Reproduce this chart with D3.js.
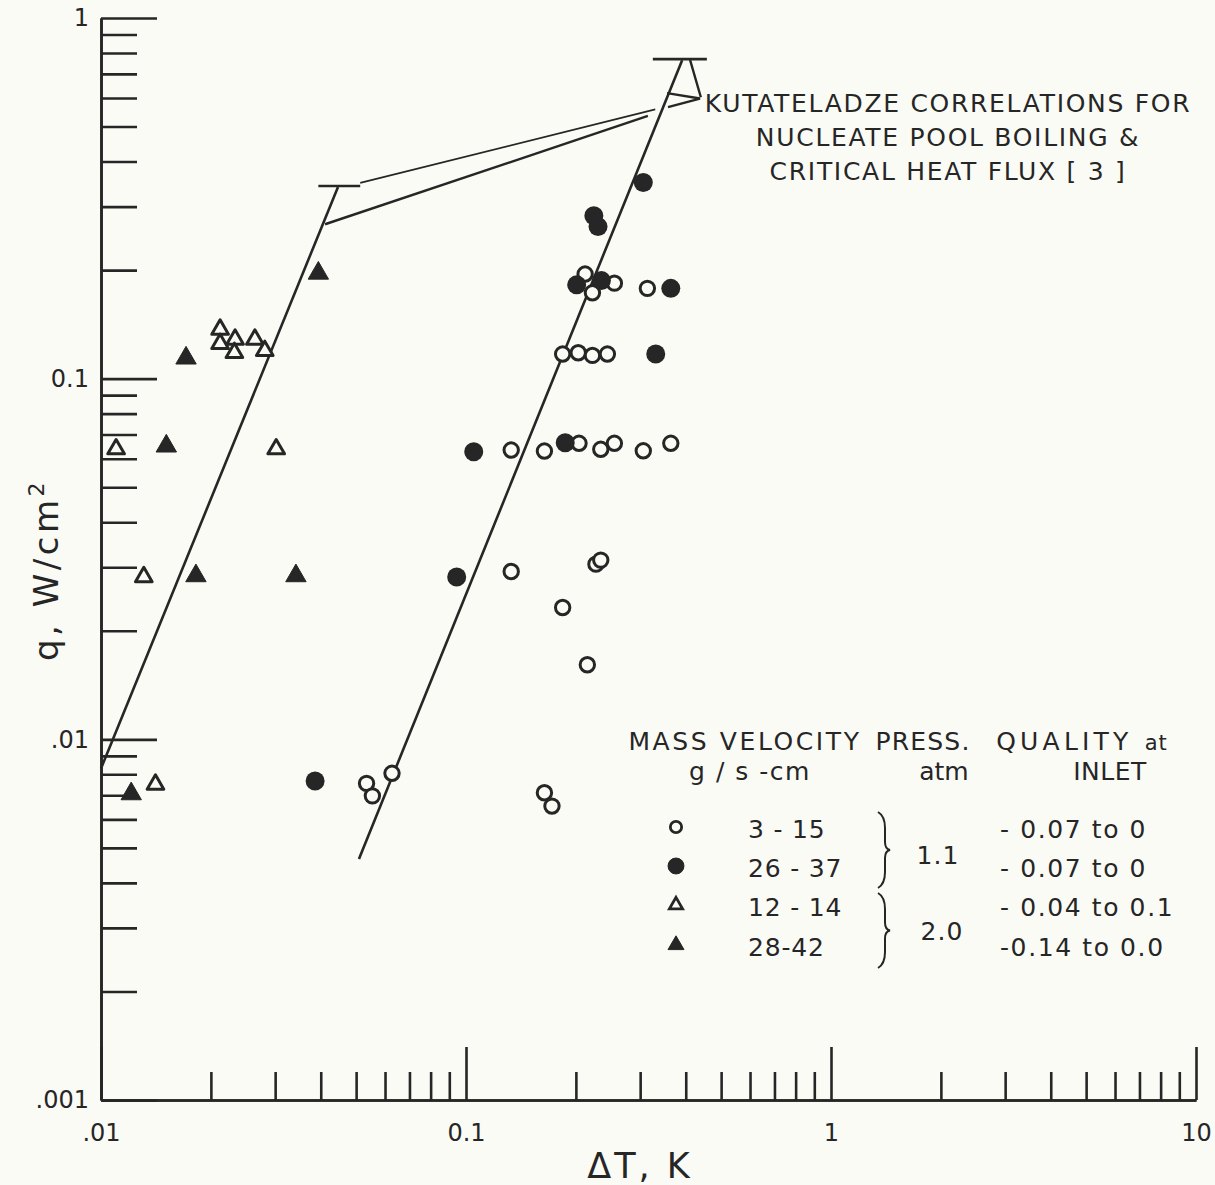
<!DOCTYPE html>
<html>
<head>
<meta charset="utf-8">
<script src="https://cdn.jsdelivr.net/npm/d3@7"></script>
<style>
  body { margin: 0; background: #fbfbf6; }
  svg { display: block; }
</style>
</head>
<body>
<script>
// Width and height
var w = 1215;
var h = 1185;
var ink = "#262626";

// Data: [delta T (K), q (W/cm2)]
var openCircles = [      // mass velocity 3 - 15, 1.1 atm
  [0.212, 0.195], [0.222, 0.173], [0.255, 0.184], [0.314, 0.178],
  [0.184, 0.117], [0.203, 0.118], [0.222, 0.116], [0.244, 0.117],
  [0.133, 0.0634], [0.164, 0.063], [0.204, 0.0662], [0.234, 0.0637],
  [0.255, 0.0662], [0.306, 0.0631], [0.364, 0.0662],
  [0.133, 0.0292], [0.227, 0.0306], [0.234, 0.0314],
  [0.184, 0.0232], [0.215, 0.0161],
  [0.0534, 0.00755], [0.0554, 0.00697], [0.0627, 0.00805],
  [0.164, 0.00711], [0.172, 0.00653]
];
var filledCircles = [    // mass velocity 26 - 37, 1.1 atm
  [0.306, 0.350], [0.224, 0.283], [0.230, 0.264],
  [0.201, 0.182], [0.235, 0.187], [0.364, 0.178], [0.331, 0.117],
  [0.105, 0.0627], [0.187, 0.0664], [0.0943, 0.0282], [0.0386, 0.00766]
];
var openTriangles = [    // mass velocity 12 - 14, 2.0 atm
  [0.0212, 0.137], [0.0212, 0.125], [0.0233, 0.1285], [0.0232, 0.118],
  [0.0264, 0.1285], [0.0281, 0.1195],
  [0.0110, 0.0638], [0.0302, 0.0638], [0.0131, 0.0282], [0.0141, 0.0075]
];
var filledTriangles = [  // mass velocity 28 - 42, 2.0 atm
  [0.0394, 0.196], [0.0171, 0.114], [0.0151, 0.065],
  [0.0182, 0.0284], [0.0342, 0.0284], [0.0121, 0.00706]
];

// Kutateladze correlations
var poolLeft = [[0.01, 0.0083], [0.0446, 0.340]];
var chfLeft = [[0.0394, 0.342], [0.0513, 0.342]];
var poolRight = [[0.0509, 0.00466], [0.391, 0.764]];
var chfRight = [[0.325, 0.769], [0.457, 0.769]];

// leader lines of the note
var leaderUpper = [[0.0513, 0.349], [0.330, 0.558]];
var leaderLower = [[0.0411, 0.268], [0.315, 0.535]];
var leaderArrow = [[0.3555, 0.619], [0.4375, 0.598], [0.3576, 0.566]];
var leaderCap = [[0.411, 0.765], [0.440, 0.603]];

// Ticks and labels
var xMajor = [0.01, 0.1, 1, 10];
var xLabels = [".01", "0.1", "1", "10"];
var yMajor = [0.001, 0.01, 0.1, 1];
var yLabels = [".001", ".01", "0.1", "1"];
var minorSteps = [2, 3, 4, 5, 6, 7, 8, 9];

// Legend
var legendRanges = ["3 - 15", "26 - 37", "12 - 14", "28-42"];
var legendQuality = ["- 0.07 to 0", "- 0.07 to 0", "- 0.04 to 0.1", "-0.14 to 0.0"];
var legendPress = ["1.1", "2.0"];
var noteLines = ["KUTATELADZE CORRELATIONS FOR", "NUCLEATE POOL BOILING &", "CRITICAL HEAT FLUX [ 3 ]"];

var svg = d3.select("body")
            .append("svg")
            .attr("width", w)
            .attr("height", h)
            .style("font-family", "'DejaVu Sans', sans-serif");

svg.append("rect").attr("width", w).attr("height", h).attr("fill", "#fbfbf6");

var x = d3.scaleLog().domain([0.01, 10]).range([101, 1196]);
var y = d3.scaleLog().domain([0.001, 1]).range([1100, 18]);

function minors(decades) {
  var out = [];
  decades.forEach(function(d) {
    minorSteps.forEach(function(s) { out.push(d * s); });
  });
  return out;
}

// y axis (ticks point into the plot)
svg.append("g")
   .attr("transform", "translate(" + x(0.01) + ",0)")
   .call(d3.axisLeft(y).tickValues(minors([0.001, 0.01, 0.1])).tickSize(-36).tickSizeOuter(0).tickFormat(""));
svg.append("g")
   .attr("transform", "translate(" + x(0.01) + ",0)")
   .call(d3.axisLeft(y).tickValues(yMajor).tickSize(-56).tickSizeOuter(0).tickPadding(12)
           .tickFormat(function(d, i) { return yLabels[i]; }));

// x axis
svg.append("g")
   .attr("transform", "translate(0," + y(0.001) + ")")
   .call(d3.axisBottom(x).tickValues(minors([0.01, 0.1, 1])).tickSize(-28).tickSizeOuter(0).tickFormat(""));
svg.append("g")
   .attr("transform", "translate(0," + y(0.001) + ")")
   .call(d3.axisBottom(x).tickValues(xMajor).tickSize(-53).tickSizeOuter(0).tickPadding(24)
           .tickFormat(function(d, i) { return xLabels[i]; }));

svg.selectAll(".domain, .tick line")
   .attr("stroke", ink)
   .attr("stroke-width", 2.6);
svg.selectAll(".tick text")
   .attr("fill", ink)
   .attr("font-size", 24)
   .attr("font-family", "'DejaVu Sans', sans-serif");

// axis titles
svg.append("text")
   .attr("x", 640).attr("y", 1178)
   .attr("text-anchor", "middle")
   .attr("font-size", 35)
   .attr("letter-spacing", 3)
   .attr("fill", ink)
   .text("\u0394T,  K");

var yt = svg.append("text")
   .attr("transform", "translate(58,570) rotate(-90)")
   .attr("text-anchor", "middle")
   .attr("font-size", 34)
   .attr("letter-spacing", 3.5)
   .attr("fill", ink);
yt.append("tspan").text("q, W/cm");
yt.append("tspan").attr("font-size", 22).attr("dy", -14).text("2");

// correlation lines
var line = d3.line()
             .x(function(d) { return x(d[0]); })
             .y(function(d) { return y(d[1]); });

[poolLeft, chfLeft, poolRight, chfRight].forEach(function(seg) {
  svg.append("path").attr("d", line(seg))
     .attr("fill", "none").attr("stroke", ink).attr("stroke-width", 2.6);
});
[leaderUpper, leaderLower, leaderArrow, leaderCap].forEach(function(seg, i) {
  svg.append("path").attr("d", line(seg))
     .attr("fill", "none").attr("stroke", ink)
     .attr("stroke-width", i == 0 ? 1.8 : 2.4)
     .attr("stroke-linejoin", "miter");
});

// data points
svg.selectAll("circle.open")
   .data(openCircles)
   .enter()
   .append("circle")
   .attr("class", "open")
   .attr("cx", function(d) { return x(d[0]); })
   .attr("cy", function(d) { return y(d[1]); })
   .attr("r", 7.2)
   .attr("fill", "#fbfbf6")
   .attr("stroke", ink)
   .attr("stroke-width", 3);

svg.selectAll("circle.filled")
   .data(filledCircles)
   .enter()
   .append("circle")
   .attr("class", "filled")
   .attr("cx", function(d) { return x(d[0]); })
   .attr("cy", function(d) { return y(d[1]); })
   .attr("r", 9.5)
   .attr("fill", ink);

var tri = d3.symbol().type(d3.symbolTriangle);

svg.selectAll("path.otri")
   .data(openTriangles)
   .enter()
   .append("path")
   .attr("class", "otri")
   .attr("d", tri.size(120)())
   .attr("transform", function(d) { return "translate(" + x(d[0]) + "," + y(d[1]) + ")"; })
   .attr("fill", "#fbfbf6")
   .attr("stroke", ink)
   .attr("stroke-width", 3)
   .attr("stroke-linejoin", "round");

svg.selectAll("path.ftri")
   .data(filledTriangles)
   .enter()
   .append("path")
   .attr("class", "ftri")
   .attr("d", tri.size(180)())
   .attr("transform", function(d) { return "translate(" + x(d[0]) + "," + y(d[1]) + ")"; })
   .attr("fill", ink)
   .attr("stroke", ink)
   .attr("stroke-width", 1)
   .attr("stroke-linejoin", "round");

// note text
svg.selectAll("text.note")
   .data(noteLines)
   .enter()
   .append("text")
   .attr("class", "note")
   .attr("x", 948)
   .attr("y", function(d, i) { return 112 + i * 34; })
   .attr("text-anchor", "middle")
   .attr("font-size", 25)
   .attr("letter-spacing", 1.7)
   .attr("fill", ink)
   .text(function(d) { return d; });

// legend
var leg = svg.append("g").attr("fill", ink).attr("font-size", 25);
leg.append("text").attr("x", 745).attr("y", 750).attr("text-anchor", "middle").attr("letter-spacing", 2.6).text("MASS VELOCITY");
leg.append("text").attr("x", 750).attr("y", 780).attr("text-anchor", "middle").attr("letter-spacing", 1.5).text("g / s -cm");
leg.append("text").attr("x", 923).attr("y", 750).attr("text-anchor", "middle").attr("letter-spacing", 1.2).text("PRESS.");
leg.append("text").attr("x", 944).attr("y", 780).attr("text-anchor", "middle").text("atm");
var qh = leg.append("text").attr("x", 1082).attr("y", 750).attr("text-anchor", "middle").attr("letter-spacing", 4.2);
qh.append("tspan").text("QUALITY ");
qh.append("tspan").attr("font-size", 21).attr("letter-spacing", 1).text("at");
leg.append("text").attr("x", 1110).attr("y", 780).attr("text-anchor", "middle").attr("letter-spacing", 0.5).text("INLET");

var rowY = [829, 868, 907, 947];
var rowSym = [
  d3.symbol().type(d3.symbolCircle).size(100)(),
  d3.symbol().type(d3.symbolCircle).size(200)(),
  d3.symbol().type(d3.symbolTriangle).size(75)(),
  d3.symbol().type(d3.symbolTriangle).size(110)()
];
rowY.forEach(function(ry, i) {
  leg.append("path")
     .attr("d", rowSym[i])
     .attr("transform", "translate(676," + (ry - 2) + ")")
     .attr("fill", (i % 2 == 0) ? "#fbfbf6" : ink)
     .attr("stroke", ink)
     .attr("stroke-width", (i % 2 == 0) ? 2.8 : 1);
  leg.append("text").attr("x", 748).attr("y", ry + 9).attr("letter-spacing", 0.8).text(legendRanges[i]);
  leg.append("text").attr("x", 1000).attr("y", ry + 9).attr("letter-spacing", 1.6).text(legendQuality[i]);
});

// braces
function brace(x0, y0, y1) {
  var ym = (y0 + y1) / 2;
  return "M" + x0 + "," + y0 +
         " Q" + (x0 + 7) + "," + (y0 + 4) + " " + (x0 + 7) + "," + (y0 + 16) +
         " L" + (x0 + 7) + "," + (ym - 8) +
         " Q" + (x0 + 7) + "," + (ym - 1) + " " + (x0 + 12) + "," + ym +
         " Q" + (x0 + 7) + "," + (ym + 1) + " " + (x0 + 7) + "," + (ym + 8) +
         " L" + (x0 + 7) + "," + (y1 - 16) +
         " Q" + (x0 + 7) + "," + (y1 - 4) + " " + x0 + "," + y1;
}
leg.append("path").attr("d", brace(878, 812, 888)).attr("fill", "none").attr("stroke", ink).attr("stroke-width", 2);
leg.append("path").attr("d", brace(878, 893, 968)).attr("fill", "none").attr("stroke", ink).attr("stroke-width", 2);
leg.append("text").attr("x", 938).attr("y", 864).attr("text-anchor", "middle").attr("letter-spacing", 1).text(legendPress[0]);
leg.append("text").attr("x", 942).attr("y", 940).attr("text-anchor", "middle").attr("letter-spacing", 1).text(legendPress[1]);
</script>
</body>
</html>
